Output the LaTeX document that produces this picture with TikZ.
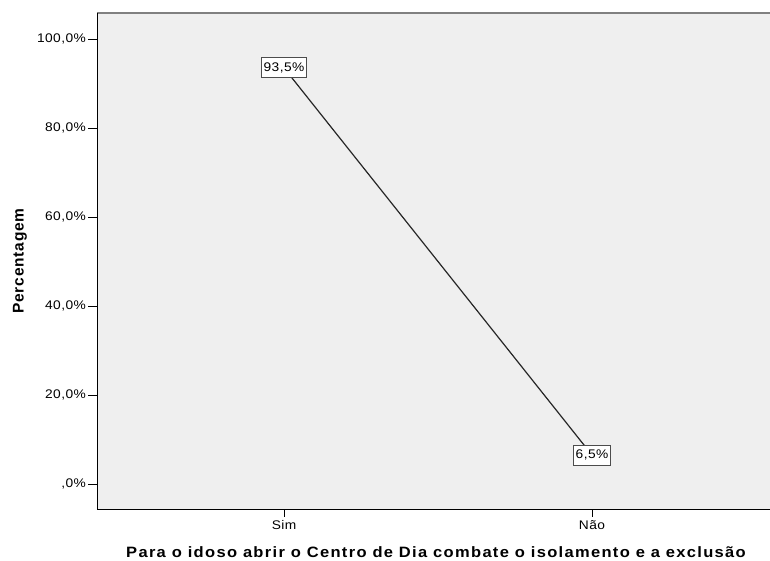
\documentclass[tikz,border=0pt]{standalone}
\usepackage{fontspec}
\usepackage{graphicx}
\setmainfont{Liberation Sans}[LetterSpace=3]
\newfontfamily\titlefont[LetterSpace=8]{Liberation Sans}
\newfontfamily\ytitlefont[LetterSpace=5]{Liberation Sans}
\usepackage{tikz}

\definecolor{plotbg}{RGB}{239,239,239}
\newcommand{\widetext}[1]{\scalebox{1.1}[1]{#1}}

\begin{document}
\begin{tikzpicture}[
                    x=1pt, y=-1pt,
                    every node/.style={
                        inner sep=0pt,
                        font=\fontsize{12.5}{13}\selectfont
                    },
                    ylab/.style={anchor=east},
                    xlab/.style={anchor=north},
                    valbox/.style={
                        draw=black!70,
                        fill=white,
                        line width=1pt,
                        inner xsep=2.5pt,
                        minimum height=20pt
                    }
                ]
                    \useasboundingbox (0,0) rectangle (770,560);
                    
                    % Plot area
                    \fill[plotbg] (97,13) rectangle (770,509);
                    \draw[black!50, line width=1.3pt] (97,13) -- (770,13);
                    \draw[line width=1pt] (97,13) -- (97,509) -- (770,509);
                    
                    % Y ticks
                    \foreach \v/\t in {0/{,0\%}, 20/{20,0\%}, 40/{40,0\%},
                                       60/{60,0\%}, 80/{80,0\%}, 100/{100,0\%}} {
                        \draw[line width=0.9pt] (88,484-4.45*\v) -- (97,484-4.45*\v);
                        \node[ylab] (y\v) at (86,484-4.45*\v) {\widetext{\t}};
                    }
                    
                    % X ticks
                    \coordinate (s) at (284,509);
                    \coordinate (n) at (592,509);
                    \draw[line width=0.9pt] (s) -- ++(0,8);
                    \draw[line width=0.9pt] (n) -- ++(0,8);
                    \node[xlab] (sim) at (284,520) {\widetext{Sim}};
                    \node[xlab] (nao) at (592,520) {\widetext{Não}};
                    
                    % Data
                    \coordinate (a) at (284,{484-4.45*93.5});
                    \coordinate (b) at (592,{484-4.45*6.5});
                    \draw[line width=1.2pt, black!85] (a) -- (b);
                    \node[valbox] (va) at (a) {\widetext{93,5\%}};
                    \node[valbox] (vb) at (b) {\widetext{6,5\%}};
                    
                    % Axis titles
                    \node[rotate=90, font=\ytitlefont\fontsize{15.5}{15}\selectfont\bfseries] (ytitle) at (20,261) {Percentagem};
                    \node[anchor=base, font=\titlefont\fontsize{15}{15}\selectfont\bfseries] (xtitle) at (436,557) {\widetext{Para o idoso abrir o Centro de Dia combate o isolamento e a exclusão}};
                \end{tikzpicture}
\end{document}
